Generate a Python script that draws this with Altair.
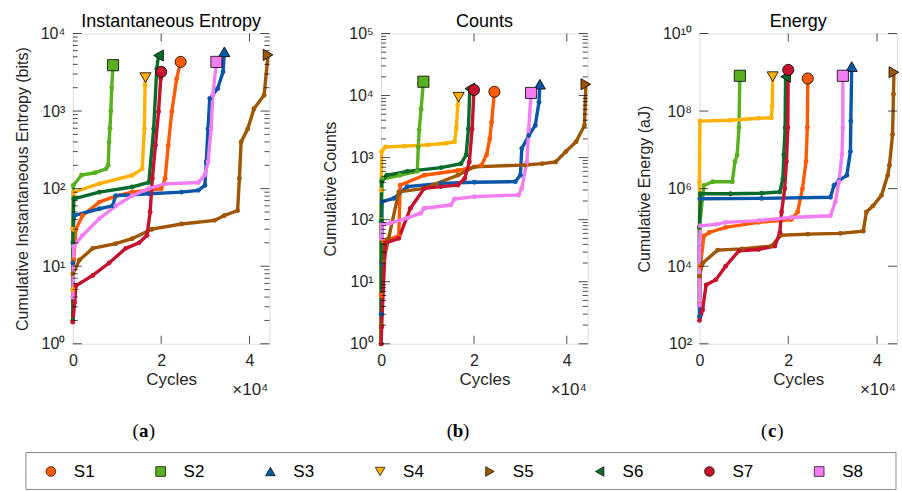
import altair as alt
import pandas as pd

SERIES = ["S1", "S2", "S3", "S4", "S5", "S6", "S7", "S8"]
COLORS = ["#FF5A00", "#58B01E", "#0A56A8", "#FFB000", "#9E5600", "#0B6B2A", "#C4122F", "#F27DF2"]
SHAPES = ["circle", "square", "triangle-up", "triangle-down", "triangle-right", "triangle-left", "circle", "square"]

# x values are in units of 1e4 cycles (as on the axes)
# (a) Cumulative instantaneous entropy (bits)
ENT_X = {
    "S1": [0, 0.02, 0.07, 0.22, 0.6, 0.97, 1.34, 2.0, 2.09, 2.16, 2.24, 2.35, 2.44],
    "S2": [0, 0, 0.01, 0.2, 0.5, 0.75, 0.8, 0.82, 0.84, 0.86, 0.88, 0.91],
    "S3": [0, 0.01, 0.03, 0.6, 0.9, 0.97, 1.72, 2.46, 2.84, 2.99, 3.02, 3.06, 3.1, 3.28, 3.4, 3.43],
    "S4": [0, 0.005, 0.02, 0.6, 1.34, 1.57, 1.62, 1.635, 1.645],
    "S5": [0, 0.15, 0.45, 0.97, 1.34, 1.79, 2.46, 3.21, 3.43, 3.73, 3.77, 3.81, 3.96, 4.1, 4.33, 4.42],
    "S6": [0, 0, 0.02, 0.6, 1.34, 1.72, 1.83, 1.9, 1.94],
    "S7": [0, 0.04, 0.07, 0.45, 0.82, 1.2, 1.5, 1.68, 1.75, 1.8, 1.87, 1.94, 1.99, 2.0],
    "S8": [0, 0.02, 0.22, 0.6, 0.97, 1.34, 1.72, 2.09, 2.84, 2.99, 3.06, 3.13, 3.17, 3.25],
}
ENT_Y = {
    "S1": [5, 12, 30, 45, 67, 80, 90, 100, 135, 360, 980, 2600, 4300],
    "S2": [2, 30, 110, 150, 160, 180, 200, 400, 600, 1000, 2000, 3900],
    "S3": [11, 30, 45, 55, 60, 81, 86, 90, 95, 110, 220, 590, 1450, 1950, 3200, 5800],
    "S4": [5, 30, 90, 116, 148, 180, 590, 2150, 2700],
    "S5": [8, 12, 17, 19.5, 22.6, 30, 35, 39, 45, 52, 135, 400, 590, 1070, 1600, 5300],
    "S6": [2, 20, 74, 90, 105, 120, 590, 3500, 5200],
    "S7": [1.9, 3.4, 5.6, 7.6, 11, 17, 20, 25, 50, 135, 360, 980, 2600, 3200],
    "S8": [4, 18, 25, 41, 60, 81, 100, 115, 120, 150, 220, 590, 1600, 4300],
}

# (b) Cumulative counts
CNT_X = {
    "S1": [0, 0.05, 0.38, 0.41, 0.93, 1.65, 2.16, 2.27, 2.34, 2.38, 2.44],
    "S2": [0, 0, 0.02, 0.4, 0.78, 0.8, 0.82, 0.86, 0.91],
    "S3": [0, 0.01, 0.02, 0.27, 0.56, 1.29, 2.01, 2.89, 3.0, 3.03, 3.18, 3.32, 3.4, 3.42],
    "S4": [0, 0, 0.01, 0.09, 0.5, 1.0, 1.4, 1.58, 1.62, 1.65, 1.67],
    "S5": [0, 0.05, 0.16, 0.38, 0.93, 1.65, 2.01, 3.1, 3.47, 3.76, 3.98, 4.2, 4.38, 4.41],
    "S6": [0, 0, 0.01, 0.12, 0.56, 1.29, 1.72, 1.83, 1.88, 1.91],
    "S7": [0, 0.01, 0.09, 0.38, 0.63, 0.93, 1.29, 1.65, 1.8, 1.9, 1.96, 2.0],
    "S8": [0, 0.01, 0.2, 0.56, 0.85, 0.93, 1.5, 1.58, 2.01, 2.96, 3.03, 3.14, 3.18, 3.23],
}
CNT_Y = {
    "S1": [6, 45, 55, 360, 520, 620, 750, 1100, 2000, 3700, 11500],
    "S2": [1, 100, 450, 520, 600, 1500, 2800, 6000, 16700],
    "S3": [3, 20, 195, 220, 340, 385, 400, 410, 520, 1400, 2270, 3300, 7800, 15200],
    "S4": [1, 300, 1250, 1480, 1530, 1600, 1700, 1800, 3000, 7000, 9400],
    "S5": [2, 21, 50, 280, 320, 520, 710, 760, 800, 850, 1250, 1800, 3300, 15200],
    "S6": [1, 94, 410, 520, 600, 690, 800, 1100, 2900, 12900],
    "S7": [1, 1.85, 42, 50, 153, 320, 340, 360, 460, 850, 2900, 12300],
    "S8": [50, 83, 88, 106, 127, 153, 172, 215, 235, 250, 320, 850, 2900, 11000],
}

# (c) Cumulative energy (aJ)
ENG_X = {
    "S1": [0, 0.02, 0.1, 0.22, 0.59, 1.33, 2.07, 2.21, 2.32, 2.4, 2.43, 2.44],
    "S2": [0, 0, 0.1, 0.3, 0.74, 0.8, 0.85, 0.89, 0.91],
    "S3": [0, 0, 0.01, 1.4, 2.95, 3.03, 3.14, 3.32, 3.4, 3.41, 3.43],
    "S4": [0, 0, 0.01, 0.7, 1.33, 1.62, 1.64, 1.65],
    "S5": [0, 0.07, 0.41, 0.96, 1.62, 1.84, 2.44, 3.17, 3.69, 3.76, 3.91, 4.1, 4.24, 4.28, 4.35, 4.37, 4.38],
    "S6": [0, 0, 0.02, 0.7, 1.4, 1.81, 1.88, 1.9, 1.93, 1.94],
    "S7": [0, 0.07, 0.15, 0.37, 0.59, 0.89, 1.33, 1.7, 1.81, 1.85, 1.92, 1.96, 1.99, 2.0],
    "S8": [0, 0, 0.02, 0.37, 0.59, 1.33, 2.07, 2.95, 3.06, 3.14, 3.21, 3.23, 3.23],
}
ENG_Y = {
    "S1": [1e3, 1e4, 6e4, 7.4e4, 1e5, 1.35e5, 1.6e5, 2.5e5, 1e6, 5e6, 3.7e7, 6.9e8],
    "S2": [1e3, 1e5, 1.2e6, 1.5e6, 1.5e6, 5e6, 7.4e6, 3.7e7, 8.1e8],
    "S3": [5e2, 3e4, 5.5e5, 5.6e5, 6e5, 1.2e6, 1.6e6, 2.2e6, 9e6, 5.5e7, 1.4e9],
    "S4": [1e5, 1.5e6, 5.5e7, 5.8e7, 6.5e7, 6.7e7, 1.35e8, 7.7e8],
    "S5": [5.5e3, 1.2e4, 2.6e4, 2.8e4, 3.3e4, 6.3e4, 6.7e4, 7e4, 8e4, 2.5e5, 3.6e5, 6.7e5, 2.2e6, 4e6, 2.5e7, 2.7e8, 1e9],
    "S6": [1e3, 1e5, 7.4e5, 7.4e5, 7.6e5, 8.2e5, 1.8e6, 7.4e6, 3.7e7, 7.7e8],
    "S7": [400, 740, 3300, 4500, 1e4, 2.5e4, 2.7e4, 3.3e4, 7.4e4, 2.5e5, 1e6, 5e6, 3.7e7, 1.15e9],
    "S8": [1e3, 3e4, 1.1e5, 1.2e5, 1.35e5, 1.5e5, 1.8e5, 2e5, 4.5e5, 1.5e6, 7.4e6, 3.7e7, 8.1e8],
}

X_TICKS = [0, 2, 4]
FONT = "Liberation Sans"
SERIF = "Liberation Serif"
TXT = "#262626"
H = 311

SUP = ["⁰", "¹", "²", "³", "⁴", "⁵", "⁶", "⁷", "⁸", "⁹", "¹⁰"]
YLABEL_EXPR = "'10' + [" + ",".join("'%s'" % s for s in SUP) + "][round(log(datum.value)/LN10)]"

COLOR_SCALE = alt.Scale(domain=SERIES, range=COLORS)
SHAPE_SCALE = alt.Scale(domain=SERIES, range=SHAPES)


def long_table(xs, ys):
    rows = []
    for s in SERIES:
        for i, (x, y) in enumerate(zip(xs[s], ys[s])):
            rows.append({"series": s, "x": x, "y": y, "i": i})
    return pd.DataFrame(rows)


def legend_layers():
    # boxed legend below the three panels (placed relative to panel (a))
    leg_df = pd.DataFrame({"series": SERIES})
    lx = alt.X("series:N", scale=alt.Scale(type="point", domain=SERIES, range=[-22, 748], padding=0),
               axis=None)
    box = alt.Chart(pd.DataFrame({"b": [0]})).mark_rect(fill="white", stroke="#8c8c8c", strokeWidth=1).encode(
        x=alt.value(-47), x2=alt.value(825), y=alt.value(420), y2=alt.value(457))
    sym = alt.Chart(leg_df).mark_point(filled=True, size=95, stroke="black", strokeWidth=0.7, opacity=1).encode(
        x=lx, y=alt.value(439),
        fill=alt.Fill("series:N", scale=COLOR_SCALE, legend=None),
        shape=alt.Shape("series:N", scale=SHAPE_SCALE, legend=None))
    txt = alt.Chart(leg_df).mark_text(align="left", baseline="middle", dx=23, fontSize=17, font=FONT,
                                      color="black").encode(x=lx, y=alt.value(440), text="series:N")
    return alt.layer(box, sym, txt)


def panel(xs, ys, ydom, yticks, minor, ytitle, title, letter, width, xmax, cap_x, with_legend=False):
    df = long_table(xs, ys)
    ends = df.groupby("series", sort=False).tail(1)
    X = alt.X("x:Q", scale=alt.Scale(domain=[0, xmax], nice=False, zero=False),
              axis=alt.Axis(values=X_TICKS, format="d", title="Cycles", ticks=False, domain=False,
                            grid=False, labelPadding=9, titlePadding=3, labelFontSize=16,
                            titleFontSize=17, titleFontWeight="normal", labelColor=TXT,
                            titleColor=TXT, labelFont=FONT, titleFont=FONT, labelFlush=False))
    Y = alt.Y("y:Q", scale=alt.Scale(type="log", domain=ydom, nice=False),
              axis=alt.Axis(values=yticks, labelExpr=YLABEL_EXPR, title=ytitle, ticks=False,
                            domain=False, grid=False, labelPadding=8, titlePadding=10,
                            labelFontSize=16, titleFontSize=16, titleFontWeight="normal",
                            labelColor=TXT, titleColor=TXT, labelFont=FONT, titleFont=FONT,
                            labelFlush=False))
    lines = alt.Chart(df).mark_line(strokeWidth=3.4).encode(
        x=X, y=Y, color=alt.Color("series:N", scale=COLOR_SCALE, legend=None), order=alt.Order("i:Q"))
    dots = alt.Chart(df).mark_circle(size=24, opacity=1).encode(
        x="x:Q", y="y:Q", color=alt.Color("series:N", scale=COLOR_SCALE, legend=None))
    markers = alt.Chart(ends).mark_point(filled=True, size=125, stroke="black", strokeWidth=0.8, opacity=1).encode(
        x="x:Q", y="y:Q",
        fill=alt.Fill("series:N", scale=COLOR_SCALE, legend=None),
        shape=alt.Shape("series:N", scale=SHAPE_SCALE, legend=None))

    layers = [lines, dots]
    ymaj = pd.DataFrame({"y": yticks})
    layers.append(alt.Chart(ymaj).mark_tick(orient="horizontal", size=9, thickness=1, color="black", xOffset=4.5)
                  .encode(x=alt.datum(0), y="y:Q"))
    layers.append(alt.Chart(ymaj).mark_tick(orient="horizontal", size=9, thickness=1, color="black", xOffset=-4.5)
                  .encode(x=alt.datum(xmax), y="y:Q"))
    if minor:
        ymin = pd.DataFrame({"y": minor})
        layers.append(alt.Chart(ymin).mark_tick(orient="horizontal", size=5, thickness=1, color="black", xOffset=2.5)
                      .encode(x=alt.datum(0), y="y:Q"))
        layers.append(alt.Chart(ymin).mark_tick(orient="horizontal", size=5, thickness=1, color="black", xOffset=-2.5)
                      .encode(x=alt.datum(xmax), y="y:Q"))
    xt = pd.DataFrame({"x": [v for v in X_TICKS if 0 < v < xmax]})
    layers.append(alt.Chart(xt).mark_tick(orient="vertical", size=8, thickness=1, color="black", yOffset=-4)
                  .encode(x="x:Q", y=alt.datum(ydom[0])))
    layers.append(alt.Chart(xt).mark_tick(orient="vertical", size=8, thickness=1, color="black", yOffset=4)
                  .encode(x="x:Q", y=alt.datum(ydom[1])))
    layers.append(markers)

    exp_df = pd.DataFrame({"t": ["×10⁴"]})
    layers.append(alt.Chart(exp_df).mark_text(align="right", baseline="alphabetic", fontSize=17, font=FONT, color=TXT)
                  .encode(x=alt.value(width - 1), y=alt.value(H + 51), text="t:N"))
    cap = pd.DataFrame({"o": ["("], "l": [letter], "c": [")"]})
    layers.append(alt.Chart(cap).mark_text(align="right", baseline="alphabetic", fontSize=19, font=SERIF, color="black")
                  .encode(x=alt.value(cap_x - 5), y=alt.value(H + 93), text="o:N"))
    layers.append(alt.Chart(cap).mark_text(align="center", baseline="alphabetic", fontSize=19, font=SERIF,
                                          fontWeight="bold", color="black")
                  .encode(x=alt.value(cap_x), y=alt.value(H + 93), text="l:N"))
    layers.append(alt.Chart(cap).mark_text(align="left", baseline="alphabetic", fontSize=19, font=SERIF, color="black")
                  .encode(x=alt.value(cap_x + 5), y=alt.value(H + 93), text="c:N"))

    main = alt.layer(*layers)
    if with_legend:
        main = alt.layer(main, legend_layers()).resolve_scale(x="independent")
    return main.properties(
        width=width, height=H,
        title=alt.TitleParams(title, fontSize=18, fontWeight="normal", font=FONT, color="black", offset=-6))


def minors(lo, hi):
    out = []
    for k in range(lo, hi):
        for m in range(2, 10):
            out.append(m * 10 ** k)
    return out


pa = panel(ENT_X, ENT_Y, [1, 1e4], [1, 10, 100, 1e3, 1e4], minors(0, 4),
           "Cumulative Instantaneous Entropy (bits)", "Instantaneous Entropy", "a", 197, 4.45, 71,
           with_legend=True)
pb = panel(CNT_X, CNT_Y, [1, 1e5], [1, 10, 100, 1e3, 1e4, 1e5], minors(0, 5),
           "Cumulative Counts", "Counts", "b", 207, 4.45, 77)
pc = panel(ENG_X, ENG_Y, [1e2, 1e10], [1e2, 1e4, 1e6, 1e8, 1e10], None,
           "Cumulative Energy (aJ)", "Energy", "c", 198, 4.45, 73)

chart = alt.hconcat(pa, pb, pc, spacing=112, bounds="flush").resolve_scale(
    fill="shared", shape="shared", color="shared"
).properties(
    padding={"left": 13, "top": 12, "right": 0, "bottom": 0}
).configure_view(stroke="black", strokeWidth=1.5).configure(font=FONT)

chart.save("out.html", embed_options={"renderer": "svg", "actions": False})
